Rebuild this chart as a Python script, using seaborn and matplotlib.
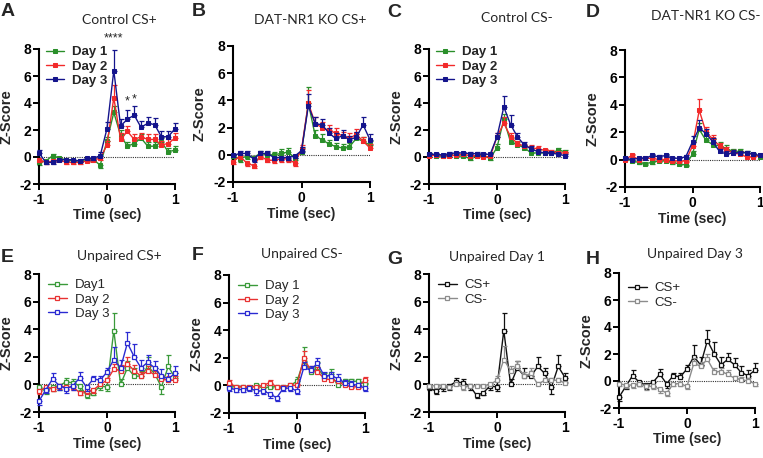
import matplotlib
matplotlib.use("Agg")
import matplotlib.pyplot as plt
import seaborn as sns
import numpy as np

sns.set_theme(style="ticks")
plt.rcParams['font.family'] = ['Liberation Sans', 'DejaVu Sans']
plt.rcParams['axes.unicode_minus'] = False

time = [-1.0, -0.9, -0.8, -0.7, -0.6, -0.5, -0.4, -0.3, -0.2, -0.1, 0.0,
        0.1, 0.2, 0.3, 0.4, 0.5, 0.6, 0.7, 0.8, 0.9, 1.0]

# Panel A: Control CS+
a_day1 = [-0.4, -0.3, 0.1, -0.1, -0.2, -0.3, -0.3, -0.2, -0.2, -0.6, 1.2, 3.3, 1.6, 0.8, 1.0, 1.4, 0.8, 0.8, 1.1, 0.4, 0.5]
a_day2 = [-0.2, -0.4, -0.3, -0.2, -0.4, -0.4, -0.4, -0.3, -0.2, -0.1, 0.9, 4.4, 1.3, 1.9, 1.3, 1.5, 1.3, 1.3, 0.9, 1.0, 1.4]
a_day3 = [0.3, -0.4, -0.4, -0.2, -0.2, -0.2, -0.3, -0.1, -0.1, 0.1, 2.1, 6.4, 2.3, 2.8, 3.1, 2.2, 2.5, 2.4, 1.5, 1.5, 2.1]
a_err1 = [0.2, 0.1, 0.1, 0.1, 0.1, 0.1, 0.1, 0.1, 0.1, 0.2, 0.3, 0.5, 0.4, 0.3, 0.3, 0.3, 0.3, 0.3, 0.3, 0.3, 0.3]
a_err2 = [0.2, 0.1, 0.1, 0.1, 0.1, 0.1, 0.1, 0.1, 0.1, 0.15, 0.3, 0.9, 0.5, 0.4, 0.4, 0.3, 0.4, 0.4, 0.3, 0.3, 0.4]
a_err3 = [0.2, 0.15, 0.15, 0.1, 0.1, 0.1, 0.1, 0.15, 0.15, 0.3, 0.5, 1.5, 0.5, 0.7, 0.7, 0.5, 0.5, 0.5, 0.4, 0.4, 0.4]

# Panel B: DAT-NR1 KO CS+
b_day1 = [-0.1, -0.3, -0.1, -0.2, 0.1, 0.0, 0.0, 0.1, 0.2, -0.2, 0.2, 3.8, 1.4, 1.1, 0.8, 0.6, 0.5, 0.6, 1.2, 1.0, 0.7]
b_day2 = [-0.5, -0.1, -0.6, -0.8, -0.1, -0.4, -0.4, -0.3, -0.3, -0.6, 0.4, 3.8, 2.3, 2.0, 1.8, 1.6, 1.4, 1.2, 1.5, 1.0, 0.5]
b_day3 = [-0.05, 0.1, 0.1, -0.3, 0.1, 0.1, -0.2, -0.2, -0.2, -0.1, 0.3, 3.6, 2.3, 2.2, 1.6, 1.2, 1.4, 1.1, 1.3, 2.2, 1.1]
b_err1 = [0.2, 0.2, 0.2, 0.2, 0.2, 0.2, 0.2, 0.3, 0.3, 0.2, 0.3, 1.2, 0.4, 0.4, 0.3, 0.3, 0.3, 0.3, 0.3, 0.3, 0.3]
b_err2 = [0.2, 0.2, 0.2, 0.2, 0.2, 0.1, 0.2, 0.2, 0.2, 0.2, 0.3, 1.0, 0.5, 0.4, 0.4, 0.4, 0.3, 0.4, 0.4, 0.3, 0.3]
b_err3 = [0.1, 0.2, 0.2, 0.2, 0.15, 0.15, 0.2, 0.2, 0.2, 0.15, 0.3, 0.9, 0.5, 0.4, 0.4, 0.4, 0.4, 0.3, 0.4, 0.6, 0.4]

# Panel C: Control CS-
c_day1 = [0.2, 0.1, 0.05, 0.15, 0.1, 0.05, -0.1, 0.1, 0.1, -0.1, 0.7, 2.8, 1.1, 0.9, 0.7, 0.3, 0.3, 0.3, 0.3, 0.5, 0.4]
c_day2 = [0.1, 0.15, 0.1, 0.1, 0.15, 0.2, 0.1, 0.1, 0.0, 0.05, 1.5, 2.5, 1.5, 1.0, 0.8, 0.7, 0.6, 0.5, 0.4, 0.3, 0.3]
c_day3 = [0.2, 0.2, 0.15, 0.25, 0.3, 0.3, 0.25, 0.25, 0.2, 0.2, 1.5, 3.7, 2.4, 1.5, 0.9, 0.6, 0.4, 0.3, 0.3, 0.2, 0.1]
c_err1 = [0.1, 0.1, 0.1, 0.1, 0.1, 0.1, 0.1, 0.1, 0.1, 0.1, 0.3, 0.4, 0.3, 0.2, 0.2, 0.2, 0.2, 0.2, 0.1, 0.2, 0.1]
c_err2 = [0.1, 0.1, 0.1, 0.1, 0.1, 0.1, 0.1, 0.1, 0.1, 0.1, 0.3, 0.5, 0.3, 0.2, 0.2, 0.2, 0.2, 0.1, 0.1, 0.1, 0.1]
c_err3 = [0.1, 0.1, 0.1, 0.1, 0.1, 0.1, 0.1, 0.1, 0.1, 0.1, 0.3, 0.8, 0.7, 0.3, 0.2, 0.2, 0.2, 0.1, 0.1, 0.1, 0.1]

# Panel D: DAT-NR1 KO CS-
d_day1 = [0.1, -0.1, -0.2, -0.3, -0.2, -0.1, -0.1, -0.2, -0.3, -0.4, 0.4, 2.2, 1.4, 1.1, 1.0, 0.8, 0.6, 0.6, 0.5, 0.4, 0.2]
d_day2 = [0.0, 0.3, 0.0, 0.1, 0.1, 0.0, 0.0, -0.1, -0.1, -0.1, 1.0, 3.6, 2.0, 1.5, 1.0, 0.7, 0.5, 0.4, 0.2, 0.2, 0.3]
d_day3 = [0.1, 0.0, 0.1, 0.1, 0.3, 0.2, 0.3, 0.1, 0.1, 0.2, 1.3, 2.3, 1.9, 1.3, 0.6, 0.4, 0.5, 0.5, 0.5, 0.4, 0.3]
d_err1 = [0.1, 0.1, 0.1, 0.1, 0.1, 0.1, 0.1, 0.1, 0.1, 0.1, 0.2, 0.5, 0.4, 0.4, 0.3, 0.3, 0.2, 0.2, 0.1, 0.1, 0.1]
d_err2 = [0.1, 0.1, 0.1, 0.1, 0.1, 0.1, 0.1, 0.1, 0.1, 0.1, 0.3, 0.8, 0.4, 0.3, 0.2, 0.2, 0.2, 0.2, 0.2, 0.1, 0.1]
d_err3 = [0.1, 0.1, 0.1, 0.1, 0.1, 0.1, 0.1, 0.1, 0.1, 0.1, 0.4, 0.6, 0.3, 0.3, 0.2, 0.2, 0.2, 0.1, 0.1, 0.1, 0.1]

# Panel E: Unpaired CS+
e_day1 = [-0.2, -0.5, -0.2, -0.1, 0.2, 0.1, -0.1, -0.8, -0.6, -0.1, -0.2, 3.9, 0.0, 1.2, 0.6, 0.6, 1.3, 0.8, -0.2, 1.3, 0.5]
e_day2 = [-0.5, -0.2, -0.3, -0.1, -0.2, -0.2, -0.6, -0.5, -0.4, 0.0, 0.3, 1.1, 1.0, 1.5, 1.0, 0.6, 1.0, 0.7, 0.4, 0.3, 0.3]
e_day3 = [-1.2, -0.4, 0.4, -0.1, -0.3, -0.1, 0.5, -0.2, 0.4, 0.3, 0.9, 1.8, 1.2, 3.0, 2.0, 1.2, 1.6, 1.2, 0.6, 0.4, 0.8]
e_err1 = [0.2, 0.2, 0.3, 0.3, 0.3, 0.3, 0.3, 0.2, 0.2, 0.3, 0.3, 1.3, 0.4, 0.5, 0.6, 0.4, 0.7, 0.4, 0.5, 0.8, 0.3]
e_err2 = [0.2, 0.2, 0.2, 0.2, 0.2, 0.2, 0.2, 0.2, 0.2, 0.2, 0.2, 0.4, 0.4, 0.5, 0.4, 0.3, 0.3, 0.3, 0.3, 0.3, 0.3]
e_err3 = [0.3, 0.2, 0.4, 0.3, 0.3, 0.3, 0.4, 0.3, 0.2, 0.3, 0.3, 0.9, 0.6, 0.8, 0.9, 0.6, 0.5, 0.5, 0.5, 0.4, 0.5]

# Panel F: Unpaired CS-
f_day1 = [-0.1, -0.1, -0.1, -0.2, 0.0, -0.2, -0.1, -0.1, -0.1, 0.0, 0.3, 1.8, 1.0, 1.3, 0.6, 0.8, 0.0, 0.3, 0.3, 0.3, 0.1]
f_day2 = [0.2, -0.1, -0.1, -0.1, -0.1, 0.0, 0.2, -0.1, -0.1, 0.0, 0.0, 2.0, 1.1, 1.0, 0.5, 0.4, 0.3, 0.0, -0.1, -0.1, 0.4]
f_day3 = [-0.2, -0.3, -0.3, -0.2, -0.4, -0.4, -0.6, -0.9, -0.2, -0.2, -0.4, 1.3, 1.1, 1.6, 0.7, 0.7, 0.5, 0.2, 0.1, 0.0, -0.2]
f_err1 = [0.1, 0.1, 0.1, 0.1, 0.1, 0.2, 0.1, 0.1, 0.1, 0.1, 0.3, 1.0, 0.3, 0.4, 0.3, 0.4, 0.2, 0.2, 0.2, 0.2, 0.1]
f_err2 = [0.2, 0.1, 0.1, 0.1, 0.1, 0.1, 0.2, 0.1, 0.1, 0.1, 0.1, 0.5, 0.3, 0.3, 0.2, 0.2, 0.2, 0.2, 0.1, 0.1, 0.2]
f_err3 = [0.2, 0.2, 0.2, 0.2, 0.3, 0.2, 0.3, 0.2, 0.2, 0.2, 0.2, 0.4, 0.3, 0.4, 0.3, 0.3, 0.3, 0.2, 0.2, 0.2, 0.2]

# Panels G/H reuse the unpaired CS+/CS- data
g_csplus, g_csplus_err = e_day1, e_err1
g_csminus, g_csminus_err = f_day1, f_err1
h_csplus, h_csplus_err = e_day3, e_err3
h_csminus, h_csminus_err = f_day3, f_err3

titles = ["Control CS+", "DAT-NR1 KO CS+", "Control CS-", "DAT-NR1 KO CS-",
          "Unpaired CS+", "Unpaired CS-", "Unpaired Day 1", "Unpaired Day 3"]
letters = ["A", "B", "C", "D", "E", "F", "G", "H"]
day_labels_top = ["Day 1", "Day 2", "Day 3"]
day_labels_e = ["Day1", "Day 2", "Day 3"]
day_labels_f = ["Day 1", "Day 2", "Day 3"]
cs_labels = ["CS+", "CS-"]
y_ticks = [-2, 0, 2, 4, 6, 8]
x_ticks = [-1, 0, 1]

top_colors = ["#2a8f2a", "#f22a2a", "#14148c"]
bot_colors = ["#3a9a3a", "#e83232", "#2a2ad2"]
cs_colors = ["#111111", "#8c8c8c"]

W, H = 763, 458
fig = plt.figure(figsize=(W / 100, H / 100), dpi=100)

def rect(l, r, t, b):
    return [l / W, 1 - b / H, (r - l) / W, (b - t) / H]

rects = [rect(39, 175, 49, 184), rect(233, 370, 46, 182), rect(429, 565, 49, 184), rect(625, 760, 50, 187),
         rect(39, 175, 274, 412), rect(229, 365, 275, 413), rect(429, 565, 274, 412), rect(619, 755, 273, 408)]
title_pos = [(119, 20), (310, 20), (517, 18), (706, 16), (119, 256), (302, 254), (497, 257), (695, 254)]
letter_pos = [(1, 3), (192, 3), (387, 4), (586, 4), (1, 249), (192, 247), (387, 251), (586, 251)]
legend_anchor = [(-0.02, 1.09), None, (-0.02, 1.09), None,
                 (0.0, 1.03), (0.0, 1.03), (0.0, 1.03), (0.0, 1.0)]

panels = [
    ([a_day1, a_day2, a_day3], [a_err1, a_err2, a_err3], top_colors, day_labels_top, True),
    ([b_day1, b_day2, b_day3], [b_err1, b_err2, b_err3], top_colors, day_labels_top, True),
    ([c_day1, c_day2, c_day3], [c_err1, c_err2, c_err3], top_colors, day_labels_top, True),
    ([d_day1, d_day2, d_day3], [d_err1, d_err2, d_err3], top_colors, day_labels_top, True),
    ([e_day1, e_day2, e_day3], [e_err1, e_err2, e_err3], bot_colors, day_labels_e, False),
    ([f_day1, f_day2, f_day3], [f_err1, f_err2, f_err3], bot_colors, day_labels_f, False),
    ([g_csplus, g_csminus], [g_csplus_err, g_csminus_err], cs_colors, cs_labels, False),
    ([h_csplus, h_csminus], [h_csplus_err, h_csminus_err], cs_colors, cs_labels, False),
]

for i, (series, errs, colors, labels, filled) in enumerate(panels):
    ax = fig.add_axes(rects[i])
    ax.axhline(0, color="#333333", ls=(0, (1, 1)), lw=0.8, zorder=1)
    for k, (vals, err, col, lab) in enumerate(zip(series, errs, colors, labels)):
        v = np.array(vals)
        e = np.array(err)
        lo = np.where(v < 0, e, 0)
        hi = np.where(v >= 0, e, 0)
        ax.errorbar(time, v, yerr=[lo, hi], fmt="none", ecolor=col, elinewidth=0.9,
                    capsize=1.8, capthick=0.9, clip_on=False, zorder=2 + k)
        if filled:
            sns.lineplot(x=time, y=vals, ax=ax, color=col, label=lab, lw=1.0, marker="s",
                         markersize=3.0, markeredgecolor=col, markerfacecolor=col,
                         clip_on=False, zorder=3 + k)
        else:
            sns.lineplot(x=time, y=vals, ax=ax, color=col, label=lab, lw=1.0, marker="s",
                         markersize=3.2, markeredgecolor=col, markerfacecolor="white",
                         markeredgewidth=0.9, clip_on=False, zorder=3 + k)
    ax.set_xlim(-1, 1)
    ax.set_ylim(-2, 8)
    ax.set_xticks(x_ticks)
    ax.set_yticks(y_ticks)
    ax.set_xticklabels([str(t) for t in x_ticks], fontsize=10, fontweight="bold")
    ax.set_yticklabels([str(t) for t in y_ticks], fontsize=10, fontweight="bold")
    ax.tick_params(direction="out", length=4, width=1.4, colors="black")
    ax.tick_params(axis="y", pad=1.5)
    ax.tick_params(axis="x", pad=2.5)
    for s in ["top", "right"]:
        ax.spines[s].set_visible(False)
    for s in ["left", "bottom"]:
        ax.spines[s].set_linewidth(1.5)
        ax.spines[s].set_color("black")
    ax.set_xlabel("Time (sec)", fontsize=10, fontweight="bold")
    ax.set_ylabel("Z-Score", fontsize=10.5, fontweight="bold")
    ax.xaxis.set_label_coords(0.5, -0.232)
    ax.xaxis.label.set_va("center")
    ax.yaxis.set_label_coords(-0.24, 0.5)
    ax.yaxis.label.set_va("center")
    if legend_anchor[i] is not None:
        ax.legend(loc="upper left", bbox_to_anchor=legend_anchor[i], frameon=False,
                  handlelength=1.4, handletextpad=0.6, labelspacing=0.15,
                  borderpad=0.2,
                  prop={"family": "Liberation Sans", "size": 9.5,
                        "weight": "bold" if filled else "normal"})
    else:
        ax.get_legend().remove()
    tx, ty = title_pos[i]
    fig.text(tx / W, 1 - ty / H, titles[i], ha="center", va="center", fontsize=10,
             family="Lato")
    lx, ly = letter_pos[i]
    fig.text(lx / W, 1 - ly / H, letters[i], ha="left", va="top", fontsize=14,
             fontweight="bold")
    if i == 0:
        ax.text(0.1, 8.35, "****", ha="center", va="bottom", fontsize=9, clip_on=False)
        ax.text(0.3, 3.65, "*", ha="center", va="bottom", fontsize=9, clip_on=False)
        ax.text(0.4, 3.85, "*", ha="center", va="bottom", fontsize=9, clip_on=False)

fig.savefig("out.png", dpi=100)
